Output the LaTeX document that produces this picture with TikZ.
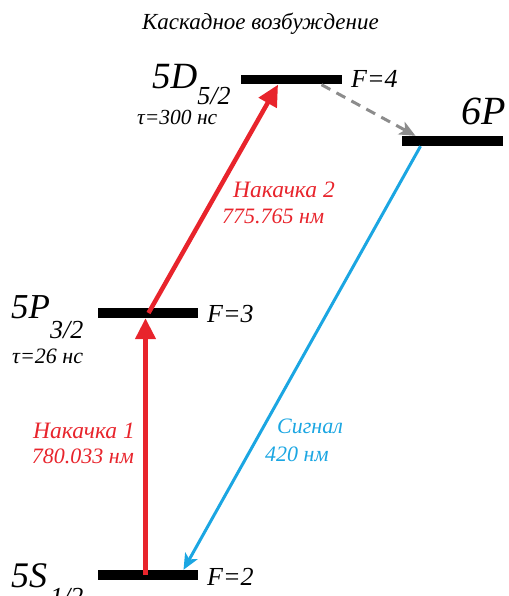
\documentclass[tikz,border=0pt]{standalone}
\usepackage{fontspec}
\setmainfont{Liberation Serif}
\usetikzlibrary{arrows.meta}
\definecolor{laserred}{HTML}{E8242C}
\definecolor{sigblue}{HTML}{1BA6E2}
\definecolor{decaygray}{HTML}{8C8C8C}
\newcommand\fsz[1]{\fontsize{#1}{#1}\selectfont}
\begin{document}
\begin{tikzpicture}[x=1pt,y=-1pt,
  level/.style={rectangle,fill=black,draw=none,inner sep=0pt,minimum width=100pt,minimum height=10pt},
  txt/.style={anchor=base west,inner sep=0pt},
  pump/.style={draw=laserred,line width=4.5pt,-{Triangle[length=21pt,width=20pt]}},
  signal/.style={draw=sigblue,line width=3pt,-{Stealth[length=16pt,width=14pt,inset=4pt]}},
  decay/.style={draw=decaygray,line width=3pt,dash pattern=on 10pt off 7pt,-{Stealth[length=16pt,width=14pt,inset=4pt]}}]
\useasboundingbox (0,0) rectangle (508,596);
% title
\node[txt,font=\itshape\fsz{23}] (title) at (142,30) {Каскадное возбуждение};
% levels
\node[level,minimum width=101pt,minimum height=9pt] (D) at (291.5,80) {};
\node[level,minimum width=101pt] (Q) at (452.5,141) {};
\node[level] (P) at (147.5,313) {};
\node[level] (S) at (147.5,575) {};
% level labels
\node[txt,font=\itshape\fsz{37}] (Dl) at (152,89) {5D\raisebox{-16pt}{\fsz{26}5/2}};
\node[txt,font=\itshape\fsz{21.5}] (Dt) at (137,125) {τ=300 нс};
\node[txt,font=\itshape\fsz{26}] (Df) at (351,88) {F=4};
\node[txt,font=\itshape\fsz{40}] (Ql) at (461,125) {6P};
\node[txt,font=\itshape\fsz{35}] (Pl) at (11,318) {5P\raisebox{-20pt}{\fsz{26}3/2}};
\node[txt,font=\itshape\fsz{22}] (Pt) at (12,363) {τ=26 нс};
\node[txt,font=\itshape\fsz{26}] (Pf) at (207,322) {F=3};
\node[txt,font=\itshape\fsz{36}] (Sl) at (11,587) {5S\hspace{3pt}\raisebox{-18pt}{\fsz{26}1/2}};
\node[txt,font=\itshape\fsz{26}] (Sf) at (207,585) {F=2};
% transitions
\draw[pump] ([xshift=-2pt]S.center) -- ([xshift=-2pt]P.south);
\draw[pump] ([xshift=1pt]P.center) -- ([xshift=-13.5pt]D.south);
\draw[decay] ([xshift=30pt]D.south) -- ([xshift=-37pt]Q.north);
\draw[signal] ([xshift=-32pt]Q.south) -- ([xshift=36pt]S.north);
% transition labels
\node[anchor=base east,inner sep=0pt,text=laserred,font=\itshape\fsz{23.5}] (p1a) at (135,438) {Накачка 1};
\node[anchor=base east,inner sep=0pt,text=laserred,font=\itshape\fsz{22}] (p1b) at (134,463) {780.033 нм};
\node[txt,text=laserred,font=\itshape\fsz{23.5}] (p2a) at (233,197) {Накачка 2};
\node[txt,text=laserred,font=\itshape\fsz{22}] (p2b) at (222,223) {775.765 нм};
\node[txt,text=sigblue,font=\itshape\fsz{22}] (sa) at (277,433) {Сигнал};
\node[txt,text=sigblue,font=\itshape\fsz{22}] (sb) at (265,461) {420 нм};
\end{tikzpicture}
\end{document}
